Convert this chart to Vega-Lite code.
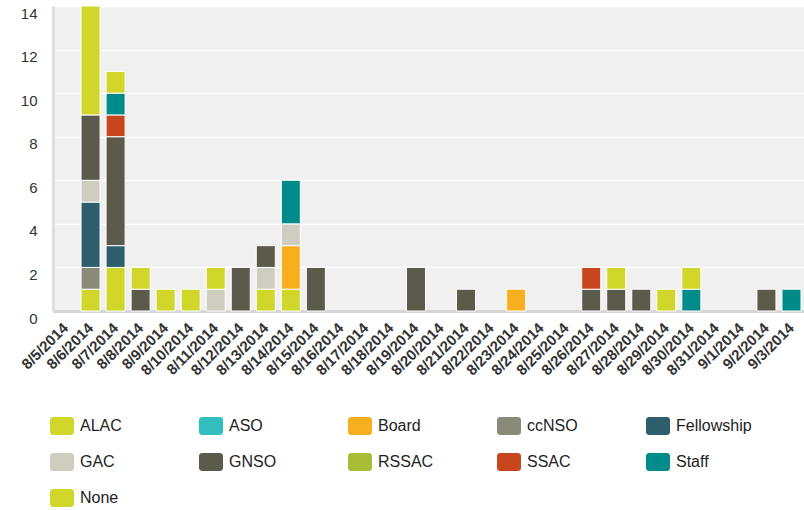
{
  "$schema": "https://vega.github.io/schema/vega-lite/v6.json",
  "autosize": {"type": "none"},
  "padding": {"left": 53, "top": 6, "right": 0, "bottom": 199},
  "width": 751,
  "height": 305,
  "background": "white",
  "config": {
    "view": {"fill": "#f0f0f0", "stroke": null},
    "font": "Liberation Sans"
  },
  "data": {
    "values": [
      {"date": "8/6/2014", "group": "ALAC", "count": 1},
      {"date": "8/6/2014", "group": "ccNSO", "count": 1},
      {"date": "8/6/2014", "group": "Fellowship", "count": 3},
      {"date": "8/6/2014", "group": "GAC", "count": 1},
      {"date": "8/6/2014", "group": "GNSO", "count": 3},
      {"date": "8/6/2014", "group": "None", "count": 5},
      {"date": "8/7/2014", "group": "ALAC", "count": 2},
      {"date": "8/7/2014", "group": "Fellowship", "count": 1},
      {"date": "8/7/2014", "group": "GNSO", "count": 5},
      {"date": "8/7/2014", "group": "SSAC", "count": 1},
      {"date": "8/7/2014", "group": "Staff", "count": 1},
      {"date": "8/7/2014", "group": "None", "count": 1},
      {"date": "8/8/2014", "group": "GNSO", "count": 1},
      {"date": "8/8/2014", "group": "None", "count": 1},
      {"date": "8/9/2014", "group": "ALAC", "count": 1},
      {"date": "8/10/2014", "group": "ALAC", "count": 1},
      {"date": "8/11/2014", "group": "GAC", "count": 1},
      {"date": "8/11/2014", "group": "None", "count": 1},
      {"date": "8/12/2014", "group": "GNSO", "count": 2},
      {"date": "8/13/2014", "group": "ALAC", "count": 1},
      {"date": "8/13/2014", "group": "GAC", "count": 1},
      {"date": "8/13/2014", "group": "GNSO", "count": 1},
      {"date": "8/14/2014", "group": "ALAC", "count": 1},
      {"date": "8/14/2014", "group": "Board", "count": 2},
      {"date": "8/14/2014", "group": "GAC", "count": 1},
      {"date": "8/14/2014", "group": "Staff", "count": 2},
      {"date": "8/15/2014", "group": "GNSO", "count": 2},
      {"date": "8/19/2014", "group": "GNSO", "count": 2},
      {"date": "8/21/2014", "group": "GNSO", "count": 1},
      {"date": "8/23/2014", "group": "Board", "count": 1},
      {"date": "8/26/2014", "group": "GNSO", "count": 1},
      {"date": "8/26/2014", "group": "SSAC", "count": 1},
      {"date": "8/27/2014", "group": "GNSO", "count": 1},
      {"date": "8/27/2014", "group": "None", "count": 1},
      {"date": "8/28/2014", "group": "GNSO", "count": 1},
      {"date": "8/29/2014", "group": "ALAC", "count": 1},
      {"date": "8/30/2014", "group": "Staff", "count": 1},
      {"date": "8/30/2014", "group": "None", "count": 1},
      {"date": "9/2/2014", "group": "GNSO", "count": 1},
      {"date": "9/3/2014", "group": "Staff", "count": 1}
    ]
  },
  "transform": [
    {"calculate": "indexof(['ALAC','ASO','Board','ccNSO','Fellowship','GAC','GNSO','RSSAC','SSAC','Staff','None'], datum.group)", "as": "stackOrder"}
  ],
  "mark": {"type": "bar", "stroke": "white", "strokeWidth": 1},
  "encoding": {
    "x": {
      "field": "date",
      "type": "nominal",
      "scale": {
        "domain": ["8/5/2014","8/6/2014","8/7/2014","8/8/2014","8/9/2014","8/10/2014","8/11/2014","8/12/2014","8/13/2014","8/14/2014","8/15/2014","8/16/2014","8/17/2014","8/18/2014","8/19/2014","8/20/2014","8/21/2014","8/22/2014","8/23/2014","8/24/2014","8/25/2014","8/26/2014","8/27/2014","8/28/2014","8/29/2014","8/30/2014","8/31/2014","9/1/2014","9/2/2014","9/3/2014"],
        "paddingInner": 0.24,
        "paddingOuter": 0.12
      },
      "axis": {
        "title": null,
        "labelAngle": -45,
        "labelAlign": "right",
        "labelBaseline": "middle",
        "labelFontSize": 15,
        "labelFontWeight": "bold",
        "labelColor": "#333333",
        "labelPadding": 14,
        "ticks": false,
        "grid": false,
        "domainColor": "#d6d6d6",
        "domainWidth": 3,
        "labelOverlap": false
      }
    },
    "y": {
      "field": "count",
      "type": "quantitative",
      "stack": "zero",
      "scale": {"domain": [0, 14], "nice": false},
      "axis": {
        "title": null,
        "values": [0, 2, 4, 6, 8, 10, 12, 14],
        "labelFontSize": 15,
        "labelColor": "#333333",
        "labelPadding": 16,
        "labelOffset": 7,
        "ticks": false,
        "gridColor": "white",
        "gridWidth": 1.5,
        "gridOpacity": 1,
        "domainColor": "#dedede",
        "domainWidth": 3
      }
    },
    "order": {"field": "stackOrder", "type": "quantitative", "sort": "ascending"},
    "color": {
      "field": "group",
      "type": "nominal",
      "scale": {
        "domain": ["ALAC","ASO","Board","ccNSO","Fellowship","GAC","GNSO","RSSAC","SSAC","Staff","None"],
        "range": ["#d0d62a","#33bec0","#f7ae1f","#898a77","#2e5e6c","#cfcdbf","#5c5a4b","#a8bc37","#c8461d","#008b8b","#d0d62a"]
      },
      "legend": {
        "title": null,
        "orient": "none",
        "legendX": -3,
        "legendY": 408,
        "direction": "horizontal",
        "columns": 5,
        "gridAlign": "all",
        "columnPadding": 43,
        "rowPadding": 15,
        "padding": 0,
        "symbolType": "M-0.75,-0.75H0.75A0.25,0.25 0 0 1 1,-0.5V0.5A0.25,0.25 0 0 1 0.75,0.75H-0.75A0.25,0.25 0 0 1 -1,0.5V-0.5A0.25,0.25 0 0 1 -0.75,-0.75Z",
        "symbolSize": 576,
        "symbolStrokeWidth": 0,
        "symbolOpacity": 1,
        "labelFontSize": 16,
        "labelColor": "#222222",
        "labelOffset": 6,
        "labelLimit": 200
      }
    }
  }
}
